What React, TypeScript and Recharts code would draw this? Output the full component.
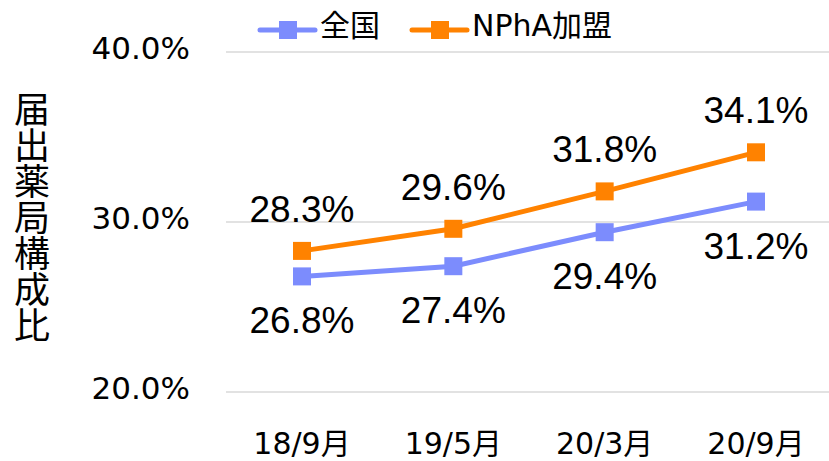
import React from 'react';
import { LineChart, Line, XAxis, YAxis, CartesianGrid, Legend, LabelList, Label } from 'recharts';

const categories = ['18/9月', '19/5月', '20/3月', '20/9月'];
const zenkoku = [26.8, 27.4, 29.4, 31.2];
const npha = [28.3, 29.6, 31.8, 34.1];
const yTicks = [20, 30, 40];
const seriesNames = ['全国', 'NPhA加盟'];
const yTitle = '届出薬局構成比';

const BLUE = '#7C8CFD';
const ORANGE = '#FF8200';
const FONT = '"DejaVu Sans", "Noto Sans CJK JP", sans-serif';
const CJK_FONT = '"Noto Sans CJK JP", sans-serif';
const LABEL_FONT = '"Liberation Sans", Arial, sans-serif';

const data = categories.map((c, i) => ({ name: c, zenkoku: zenkoku[i], npha: npha[i] }));

const SquareDot = (color: string) => (props: any) => {
  const { cx, cy } = props;
  if (cx == null || cy == null) return null;
  return <rect x={cx - 9} y={cy - 9} width={18} height={18} fill={color} />;
};

const AboveLabel = (props: any) => {
  const { x, y, value } = props;
  return (
    <text x={x} y={y - 29} textAnchor="middle" fontSize={37} fontFamily={LABEL_FONT} fill="#000">
      {Number(value).toFixed(1)}%
    </text>
  );
};

const BelowLabel = (props: any) => {
  const { x, y, value } = props;
  return (
    <text x={x} y={y + 57} textAnchor="middle" fontSize={37} fontFamily={LABEL_FONT} fill="#000">
      {Number(value).toFixed(1)}%
    </text>
  );
};

const YTick = (props: any) => {
  const { x, y, payload } = props;
  return (
    <text x={x} y={y} dy={7} textAnchor="end" fontSize={31} fontFamily={FONT} fill="#000">
      {Number(payload.value).toFixed(1)}%
    </text>
  );
};

const XTick = (props: any) => {
  const { x, y, payload } = props;
  return (
    <text x={x} y={y} dy={62} textAnchor="middle" fontSize={30} fontFamily={FONT} fill="#000">
      {payload.value}
    </text>
  );
};

const YTitle = () => (
  <text
    x={32}
    y={217}
    textAnchor="middle"
    fontSize={36}
    fontFamily={CJK_FONT}
    fill="#000"
    style={{ writingMode: 'vertical-rl' as any }}
  >
    {yTitle}
  </text>
);

const LegendContent = () => {
  const items = [
    { name: seriesNames[0], color: BLUE, x0: 260 },
    { name: seriesNames[1], color: ORANGE, x0: 412 },
  ];
  return (
    <svg width={829} height={48} style={{ display: 'block' }}>
      {items.map((it) => (
        <g key={it.name}>
          <line x1={it.x0} y1={30} x2={it.x0 + 55} y2={30} stroke={it.color} strokeWidth={5} strokeLinecap="round" />
          <rect x={it.x0 + 19} y={21} width={18} height={18} fill={it.color} />
          <text x={it.x0 + 60} y={36} fontSize={30} fontFamily={FONT} fill="#000">
            {it.name}
          </text>
        </g>
      ))}
    </svg>
  );
};

export default function App() {
  return (
    <div style={{ position: 'absolute', left: 0, top: 0, width: 829, height: 461, background: '#fff' }}>
      <LineChart width={829} height={461} data={data} margin={{ top: 52, right: -3, bottom: 0, left: 0 }}>
        <CartesianGrid vertical={false} stroke="#D9D9D9" strokeWidth={1.5} />
        <XAxis
          dataKey="name"
          height={69}
          axisLine={false}
          tickLine={false}
          tickSize={0}
          tickMargin={0}
          padding={{ left: 76, right: 76 }}
          tick={<XTick />}
          interval={0}
        />
        <YAxis
          width={226}
          domain={[20, 40]}
          ticks={yTicks}
          axisLine={false}
          tickLine={false}
          tickSize={0}
          tickMargin={36}
          tick={<YTick />}
        >
          <Label content={<YTitle />} />
        </YAxis>
        <Legend
          layout="vertical"
          align="center"
          verticalAlign="middle"
          content={<LegendContent />}
          wrapperStyle={{ position: 'absolute', top: 0, left: 0, width: 829, height: 48 }}
        />
        <Line
          dataKey="zenkoku"
          name={seriesNames[0]}
          stroke={BLUE}
          strokeWidth={5}
          dot={SquareDot(BLUE)}
          activeDot={false}
          isAnimationActive={false}
        >
          <LabelList dataKey="zenkoku" content={<BelowLabel />} />
        </Line>
        <Line
          dataKey="npha"
          name={seriesNames[1]}
          stroke={ORANGE}
          strokeWidth={5}
          dot={SquareDot(ORANGE)}
          activeDot={false}
          isAnimationActive={false}
        >
          <LabelList dataKey="npha" content={<AboveLabel />} />
        </Line>
      </LineChart>
    </div>
  );
}
